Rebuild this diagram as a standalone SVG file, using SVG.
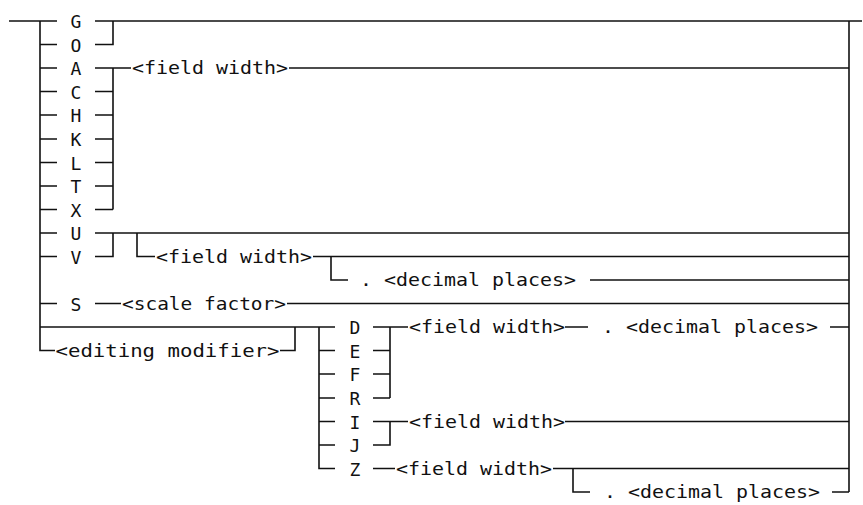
<svg xmlns="http://www.w3.org/2000/svg" width="863" height="505" viewBox="0 0 863 505">
<style>
.t{font-family:"DejaVu Sans Mono","Liberation Mono",monospace;font-size:18px;fill:#111;}
.c{text-anchor:middle;}
.ln{fill:none;stroke:#111;stroke-width:1.6;stroke-linecap:butt;stroke-linejoin:miter;}
</style>
<rect width="863" height="505" fill="#fff"/>
<g id="connectors" class="ln">
<path d="M9 21H57M95 21H862"/>
<path d="M40 21V350.5H55"/>
<path d="M40 44.5H57M40 68H57M40 91.5H57M40 115H57M40 139H57M40 162.5H57M40 186H57M40 209.5H57M40 233H57M40 256.5H57M40 303.5H57"/>
<path d="M95 44.5H113V21"/>
<path d="M95 68H131M113 68V209.5M95 91.5H113M95 115H113M95 139H113M95 162.5H113M95 186H113M95 209.5H113"/>
<path d="M289 68H849"/>
<path d="M95 233H849"/>
<path d="M95 256.5H113V233"/>
<path d="M137 233V256.5H155"/>
<path d="M313 256.5H849"/>
<path d="M331 256.5V280H348"/>
<path d="M590 280H849"/>
<path d="M95 303.5H121M287 303.5H849"/>
<path d="M40 327H335"/>
<path d="M280 350.5H295V327"/>
<path d="M319 327V468.5H335M319 350.5H335M319 374H335M319 398H335M319 421.5H335M319 445H335"/>
<path d="M373 327H408M390 327V398M373 350.5H390M373 374H390M373 398H390"/>
<path d="M565 327H588M830 327H849"/>
<path d="M373 421.5H408M390 421.5V445H373"/>
<path d="M565 421.5H849"/>
<path d="M373 468.5H395M553 468.5H849"/>
<path d="M573 468.5V492H590M832 492H849"/>
<path d="M849 21V492"/>
</g>
<g id="n-G"><text class="t c" x="76" y="28">G</text></g>
<g id="n-O"><text class="t c" x="76" y="51.5">O</text></g>
<g id="n-A"><text class="t c" x="76" y="75">A</text></g>
<g id="n-C"><text class="t c" x="76" y="98.5">C</text></g>
<g id="n-H"><text class="t c" x="76" y="122">H</text></g>
<g id="n-K"><text class="t c" x="76" y="146">K</text></g>
<g id="n-L"><text class="t c" x="76" y="169.5">L</text></g>
<g id="n-T"><text class="t c" x="76" y="193">T</text></g>
<g id="n-X"><text class="t c" x="76" y="216.5">X</text></g>
<g id="n-U"><text class="t c" x="76" y="240">U</text></g>
<g id="n-V"><text class="t c" x="76" y="263.5">V</text></g>
<g id="n-S"><text class="t c" x="76" y="310.5">S</text></g>
<g id="n-fw1"><text class="t" x="132" y="74" textLength="156" lengthAdjust="spacingAndGlyphs">&lt;field width&gt;</text></g>
<g id="n-fw2"><text class="t" x="156" y="262.5" textLength="156" lengthAdjust="spacingAndGlyphs">&lt;field width&gt;</text></g>
<g id="n-dp1"><text class="t" x="360" y="286" textLength="216" lengthAdjust="spacingAndGlyphs">. &lt;decimal places&gt;</text></g>
<g id="n-sf"><text class="t" x="122" y="309.5" textLength="164" lengthAdjust="spacingAndGlyphs">&lt;scale factor&gt;</text></g>
<g id="n-em"><text class="t" x="55.5" y="356.5" textLength="224" lengthAdjust="spacingAndGlyphs">&lt;editing modifier&gt;</text></g>
<g id="n-D"><text class="t c" x="355" y="334">D</text></g>
<g id="n-E"><text class="t c" x="355" y="357.5">E</text></g>
<g id="n-F"><text class="t c" x="355" y="381">F</text></g>
<g id="n-R"><text class="t c" x="355" y="405">R</text></g>
<g id="n-I"><text class="t c" x="355" y="428.5">I</text></g>
<g id="n-J"><text class="t c" x="355" y="452">J</text></g>
<g id="n-Z"><text class="t c" x="355" y="475.5">Z</text></g>
<g id="n-fw3"><text class="t" x="409" y="333" textLength="156" lengthAdjust="spacingAndGlyphs">&lt;field width&gt;</text></g>
<g id="n-dp2"><text class="t" x="602" y="333" textLength="216" lengthAdjust="spacingAndGlyphs">. &lt;decimal places&gt;</text></g>
<g id="n-fw4"><text class="t" x="409" y="427.5" textLength="156" lengthAdjust="spacingAndGlyphs">&lt;field width&gt;</text></g>
<g id="n-fw5"><text class="t" x="396" y="474.5" textLength="156" lengthAdjust="spacingAndGlyphs">&lt;field width&gt;</text></g>
<g id="n-dp3"><text class="t" x="604" y="498" textLength="216" lengthAdjust="spacingAndGlyphs">. &lt;decimal places&gt;</text></g>
</svg>
